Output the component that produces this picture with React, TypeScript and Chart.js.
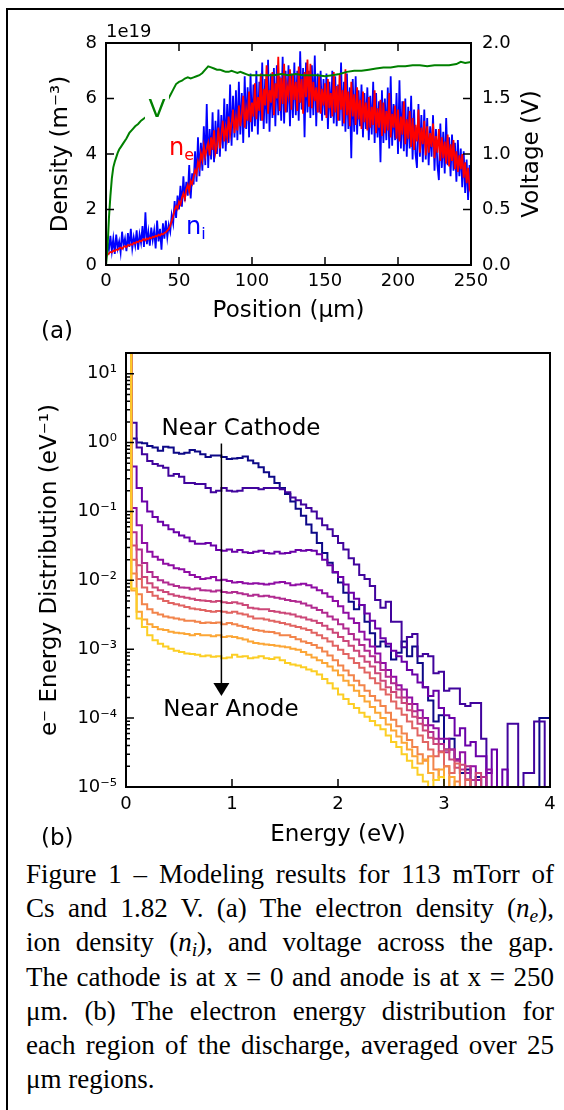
import React, { useEffect, useRef } from "react";
import { Chart, registerables } from "chart.js";

Chart.register(...registerables);

const SANS = "'DejaVu Sans', 'Noto Sans', sans-serif";
const SERIF = "'Liberation Serif', 'Times New Roman', serif";

// ======================= Panel (a) data =======================
const positionUm = [
  0, 1, 2, 3, 4, 5, 6, 7, 8, 9, 10, 11, 12, 13, 14, 15, 16, 17, 18, 19,
  20, 21, 22, 23, 24, 25, 26, 27, 28, 29, 30, 31, 32, 33, 34, 35, 36, 37, 38, 39,
  40, 41, 42, 43, 44, 45, 46, 47, 48, 49, 50, 51, 52, 53, 54, 55, 56, 57, 58, 59,
  60, 61, 62, 63, 64, 65, 66, 67, 68, 69, 70, 71, 72, 73, 74, 75, 76, 77, 78, 79,
  80, 81, 82, 83, 84, 85, 86, 87, 88, 89, 90, 91, 92, 93, 94, 95, 96, 97, 98, 99,
  100, 101, 102, 103, 104, 105, 106, 107, 108, 109, 110, 111, 112, 113, 114, 115, 116, 117, 118, 119,
  120, 121, 122, 123, 124, 125, 126, 127, 128, 129, 130, 131, 132, 133, 134, 135, 136, 137, 138, 139,
  140, 141, 142, 143, 144, 145, 146, 147, 148, 149, 150, 151, 152, 153, 154, 155, 156, 157, 158, 159,
  160, 161, 162, 163, 164, 165, 166, 167, 168, 169, 170, 171, 172, 173, 174, 175, 176, 177, 178, 179,
  180, 181, 182, 183, 184, 185, 186, 187, 188, 189, 190, 191, 192, 193, 194, 195, 196, 197, 198, 199,
  200, 201, 202, 203, 204, 205, 206, 207, 208, 209, 210, 211, 212, 213, 214, 215, 216, 217, 218, 219,
  220, 221, 222, 223, 224, 225, 226, 227, 228, 229, 230, 231, 232, 233, 234, 235, 236, 237, 238, 239,
  240, 241, 242, 243, 244, 245, 246, 247, 248, 249, 250,
];

// electron density n_e (units of 1e19 m^-3)
const electronDensity = [
  0.30, 0.36, 0.42, 0.47, 0.45, 0.52, 0.50, 0.56, 0.54, 0.60,
  0.63, 0.58, 0.65, 0.68, 0.64, 0.72, 0.70, 0.75, 0.73, 0.80,
  0.78, 0.84, 0.82, 0.88, 0.85, 0.90, 0.94, 0.89, 0.96, 0.93,
  0.99, 0.96, 1.02, 1.00, 1.05, 1.03, 1.09, 1.06, 1.12, 1.10,
  1.15, 1.18, 1.24, 1.30, 1.42, 1.58, 1.76, 1.98, 2.12, 2.02,
  2.28, 2.18, 2.42, 2.58, 2.38, 2.72, 2.88, 2.66, 3.02, 2.92,
  3.18, 3.42, 3.28, 3.72, 3.52, 4.02, 3.78, 4.28, 3.92, 4.18,
  4.40, 3.95, 4.60, 4.15, 4.85, 4.05, 4.30, 4.95, 4.20, 4.70,
  5.20, 4.45, 4.95, 4.60, 5.35, 4.70, 5.10, 5.60, 4.75, 5.30,
  4.85, 5.75, 5.00, 5.45, 6.10, 4.95, 5.60, 5.20, 6.25, 5.15,
  5.85, 5.35, 6.55, 5.25, 6.05, 5.55, 6.90, 5.20, 6.35, 5.75,
  7.20, 5.45, 6.30, 5.85, 6.95, 5.40, 6.55, 6.00, 7.50, 5.55,
  6.75, 5.80, 7.25, 5.50, 6.45, 6.10, 7.05, 5.60, 6.85, 5.95,
  6.60, 5.55, 7.15, 5.85, 6.70, 5.45, 6.95, 6.05, 7.40, 5.70,
  7.25, 5.65, 6.60, 5.90, 6.40, 5.50, 6.80, 5.45, 6.35, 5.75,
  6.55, 5.30, 6.70, 5.65, 6.20, 5.35, 6.95, 5.50, 6.45, 5.20,
  6.85, 5.60, 6.30, 5.10, 7.05, 5.40, 6.25, 5.00, 6.60, 5.35,
  6.15, 5.05, 6.40, 5.25, 5.95, 4.90, 6.25, 5.15, 5.85, 4.85,
  6.05, 4.95, 5.70, 5.05, 6.30, 4.75, 5.65, 4.95, 5.95, 4.65,
  5.85, 4.75, 5.55, 4.85, 6.20, 4.60, 5.45, 4.95, 5.75, 4.55,
  5.60, 4.45, 5.35, 4.70, 5.90, 4.35, 5.25, 4.55, 5.55, 4.25,
  5.30, 4.15, 5.05, 4.45, 5.60, 4.05, 4.95, 4.35, 5.20, 3.95,
  5.00, 4.05, 4.75, 4.25, 5.10, 3.85, 4.65, 4.05, 4.90, 3.75,
  4.60, 3.85, 4.45, 3.65, 4.70, 3.55, 4.35, 3.75, 4.50, 3.45,
  4.10, 3.35, 3.95, 3.45, 4.00, 3.15, 3.70, 2.95, 3.50, 2.75,
  2.90,
];

// ion density n_i (units of 1e19 m^-3)
const ionDensity = [
  0.35, 0.80, 0.55, 1.05, 0.50, 0.95, 0.40, 1.10, 0.60, 0.85,
  0.45, 1.20, 0.70, 0.95, 0.50, 1.15, 0.65, 1.30, 0.60, 1.00,
  0.70, 1.25, 0.55, 1.10, 0.80, 1.40, 0.65, 1.90, 0.75, 1.20,
  0.70, 1.35, 0.90, 1.25, 0.60, 1.60, 0.85, 1.30, 0.55, 1.50,
  0.95, 1.60, 1.00, 1.45, 1.20, 1.80, 1.50, 2.30, 1.70, 2.50,
  2.00, 2.85, 2.10, 3.20, 2.30, 3.00, 2.50, 3.60, 2.40, 3.30,
  2.90, 4.10, 3.00, 4.60, 3.20, 4.40, 3.40, 5.00, 3.60, 5.80,
  3.50, 4.90, 3.80, 5.50, 3.70, 5.20, 4.00, 5.60, 3.90, 5.40,
  4.20, 6.00, 4.10, 5.80, 4.40, 6.50, 4.30, 6.10, 4.60, 6.30,
  4.50, 6.60, 4.70, 6.20, 4.40, 6.80, 4.90, 6.40, 4.60, 6.90,
  4.80, 6.50, 5.00, 7.00, 4.70, 6.60, 5.20, 7.30, 4.90, 6.70,
  5.10, 7.40, 4.80, 6.90, 5.30, 7.10, 5.00, 7.20, 5.40, 6.80,
  5.20, 7.50, 5.10, 7.00, 5.50, 7.20, 5.00, 6.90, 5.30, 7.30,
  5.40, 7.00, 5.20, 7.70, 5.60, 7.10, 4.60, 7.30, 5.50, 7.00,
  5.30, 7.20, 5.40, 7.55, 5.00, 6.90, 5.50, 7.00, 5.20, 6.70,
  5.40, 6.90, 4.90, 6.60, 5.30, 7.00, 5.10, 6.80, 5.00, 6.50,
  5.20, 7.30, 5.00, 6.60, 4.80, 6.90, 4.90, 6.40, 3.85, 6.70,
  4.80, 6.80, 4.70, 6.30, 5.00, 6.50, 4.60, 6.20, 4.90, 6.40,
  4.50, 6.10, 4.70, 6.60, 4.40, 6.20, 4.60, 5.90, 3.70, 6.30,
  4.40, 6.00, 4.50, 6.40, 4.20, 6.80, 4.30, 5.80, 4.50, 6.20,
  4.00, 6.66, 4.20, 5.90, 4.10, 6.00, 3.90, 5.70, 4.20, 6.10,
  3.80, 5.60, 4.00, 3.50, 5.80, 3.90, 5.40, 3.70, 5.60, 3.80,
  5.30, 3.60, 5.00, 3.90, 5.40, 3.40, 4.90, 3.60, 3.06, 5.10,
  3.50, 4.80, 3.30, 5.30, 3.60, 4.60, 3.20, 4.70, 3.40, 4.40,
  3.00, 4.50, 3.20, 4.20, 2.80, 4.10, 2.60, 3.80, 2.34, 3.60,
  2.80,
];

const voltagePosUm = [
  0, 1, 2, 3, 4, 5, 6, 7, 8, 9, 10,
  12, 14, 16, 18, 20, 22, 24, 26, 28, 30, 32, 34, 36, 38, 40, 42, 44, 46, 48, 50,
  52, 54, 56, 58, 60, 62, 64, 66, 68, 70, 72, 74, 76, 78, 80, 82, 84, 86, 88, 90,
  92, 94, 96, 98, 100,
  105, 110, 115, 120, 125, 130, 135, 140, 145, 150, 155, 160, 165, 170, 175, 180,
  185, 190, 195, 200, 205, 210, 215, 220, 225, 230, 235, 240, 243, 246, 250,
];
const voltageV = [
  0.0, 0.14, 0.42, 0.62, 0.78, 0.88, 0.93, 0.97, 1.01, 1.04, 1.06,
  1.10, 1.14, 1.19, 1.22, 1.25, 1.27, 1.30, 1.32, 1.34, 1.36, 1.38, 1.40, 1.42, 1.44, 1.46, 1.48, 1.53, 1.58, 1.63, 1.65,
  1.66, 1.68, 1.69, 1.68, 1.69, 1.70, 1.71, 1.73, 1.76, 1.79, 1.78, 1.77, 1.76, 1.76, 1.75, 1.74, 1.74, 1.75, 1.74, 1.73,
  1.74, 1.73, 1.72, 1.71, 1.71,
  1.71, 1.71, 1.71, 1.72, 1.71, 1.72, 1.71, 1.71, 1.71, 1.70, 1.71, 1.72, 1.74, 1.75, 1.75, 1.76,
  1.77, 1.78, 1.78, 1.79, 1.79, 1.80, 1.80, 1.79, 1.80, 1.80, 1.80, 1.81, 1.83, 1.82, 1.83,
];

const positionTicks = [0, 50, 100, 150, 200, 250];
const densityTicks = [0, 2, 4, 6, 8];
const densityTickLabels = ["0", "2", "4", "6", "8"];
const voltageTicks = [0, 0.5, 1, 1.5, 2];
const voltageTickLabels = ["0.0", "0.5", "1.0", "1.5", "2.0"];

// ======================= Panel (b) data =======================
const energyEdgesEV = [
  0, 0.05, 0.1, 0.15, 0.2, 0.25, 0.3, 0.35, 0.4, 0.45, 0.5, 0.55, 0.6, 0.65, 0.7, 0.75,
  0.8, 0.85, 0.9, 0.95, 1.0, 1.05, 1.1, 1.15, 1.2, 1.25, 1.3, 1.35, 1.4, 1.45, 1.5, 1.55,
  1.6, 1.65, 1.7, 1.75, 1.8, 1.85, 1.9, 1.95, 2.0, 2.05, 2.1, 2.15, 2.2, 2.25, 2.3, 2.35,
  2.4, 2.45, 2.5, 2.55, 2.6, 2.65, 2.7, 2.75, 2.8, 2.85, 2.9, 2.95, 3.0, 3.05, 3.1, 3.15,
  3.2, 3.25, 3.3, 3.35, 3.4, 3.45, 3.5, 3.55, 3.6, 3.65, 3.7, 3.75, 3.8, 3.85, 3.9, 3.95, 4.0,
];

// e- energy distribution (eV^-1), one value per bin, region 1 = near cathode ... region 10 = near anode
const eedfRegion1 = [
  30, 1.15, 1.0, 0.98, 0.89, 0.85, 0.76, 0.87, 0.85, 0.71,
  0.69, 0.71, 0.78, 0.74, 0.68, 0.62, 0.65, 0.65, 0.62, 0.58,
  0.59, 0.60, 0.63, 0.55, 0.50, 0.44, 0.37, 0.32, 0.26, 0.22,
  0.18, 0.14, 0.11, 0.087, 0.065, 0.049, 0.035, 0.025, 0.018, 0.013,
  9.3e-3, 6.6e-3, 4.9e-3, 3.8e-3, 4.4e-3, 2.5e-3, 1.7e-3, 1.1e-3, 1.3e-3, 1.1e-3,
  7.1e-4, 8.9e-4, 1.3e-3, 7.9e-4, 1.1e-3, 6.3e-4, 2.8e-4, 1.8e-4, 8.9e-5, 1.1e-4,
  3.5e-5, 5.0e-5, 2.5e-5, 1.6e-5, 1.8e-5, 0, 1.4e-5, 0, 0, 0,
  0, 0, 0, 0, 0, 0, 0, 0, 1.0e-4, 1.0e-4,
];
const eedfRegion2 = [
  30, 1.95, 0.85, 0.68, 0.54, 0.49, 0.46, 0.43, 0.33, 0.35,
  0.32, 0.26, 0.26, 0.25, 0.25, 0.22, 0.19, 0.20, 0.22, 0.20,
  0.195, 0.20, 0.22, 0.22, 0.22, 0.21, 0.22, 0.22, 0.22, 0.21,
  0.19, 0.16, 0.145, 0.126, 0.112, 0.10, 0.079, 0.063, 0.055, 0.044,
  0.035, 0.028, 0.021, 0.017, 0.012, 0.0105, 8.3e-3, 5.2e-3, 4.0e-3, 4.9e-3,
  2.5e-3, 2.5e-3, 1.07e-3, 1.5e-3, 1.66e-3, 7.9e-4, 8.5e-4, 7.9e-4, 4.5e-4, 4.7e-4,
  2.5e-4, 2.7e-4, 2.7e-4, 1.6e-4, 1.5e-4, 1.66e-4, 1.66e-4, 5.0e-5, 0, 0,
  0, 0, 8.3e-5, 8.3e-5, 0, 1.6e-5, 1.6e-5, 8.9e-5, 8.9e-5, 0,
];
const eedfRegion3 = [
  30, 0.45, 0.22, 0.14, 0.10, 0.083, 0.071, 0.063, 0.055, 0.050,
  0.045, 0.042, 0.037, 0.034, 0.034, 0.035, 0.032, 0.0275, 0.027, 0.028,
  0.026, 0.0275, 0.0257, 0.025, 0.026, 0.027, 0.025, 0.0245, 0.026, 0.0245,
  0.025, 0.026, 0.0275, 0.027, 0.0275, 0.027, 0.024, 0.020, 0.0166, 0.0132,
  0.0112, 8.7e-3, 6.6e-3, 5.4e-3, 4.4e-3, 3.3e-3, 2.6e-3, 2.0e-3, 1.45e-3, 1.2e-3,
  9.5e-4, 7.9e-4, 6.6e-4, 5.0e-4, 4.3e-4, 3.3e-4, 2.8e-4, 2.1e-4, 2.5e-4, 1.4e-4,
  1.1e-4, 1.0e-4, 5.6e-5, 7.1e-5, 4.0e-5, 4.5e-5, 2.8e-5, 2.8e-5, 1.6e-5, 3.5e-5,
  0, 1.8e-5, 0, 0, 0, 0, 0, 0, 0, 0,
];
const eedfRegion4 = [
  30, 0.112, 0.063, 0.035, 0.026, 0.022, 0.020, 0.0174, 0.0166, 0.015,
  0.0145, 0.0132, 0.012, 0.0112, 0.0105, 0.0107, 0.0112, 0.010, 0.0102, 0.0098,
  0.0093, 0.0095, 0.0091, 0.0089, 0.0091, 0.0089, 0.0087, 0.0089, 0.0093, 0.0095,
  0.0091, 0.0085, 0.0087, 0.0089, 0.0085, 0.0079, 0.0072, 0.0065, 0.0058, 0.0050,
  4.2e-3, 3.4e-3, 2.8e-3, 2.4e-3, 1.8e-3, 1.38e-3, 1.1e-3, 8.7e-4, 6.3e-4, 5.0e-4,
  4.0e-4, 3.0e-4, 2.6e-4, 2.0e-4, 1.6e-4, 1.3e-4, 1.0e-4, 7.9e-5, 7.1e-5, 5.0e-5,
  5.0e-5, 3.5e-5, 2.5e-5, 3.2e-5, 1.6e-5, 2.0e-5, 1.26e-5, 0, 1.8e-5, 0,
  0, 0, 0, 0, 0, 0, 0, 0, 0, 0,
];
const eedfRegion5 = [
  30, 0.050, 0.028, 0.0178, 0.0132, 0.0112, 0.010, 0.0093, 0.0087, 0.0083,
  0.0079, 0.0078, 0.0074, 0.0076, 0.0072, 0.0071, 0.0069, 0.0071, 0.0068, 0.0066,
  0.0068, 0.0065, 0.0063, 0.0060, 0.0062, 0.0059, 0.0060, 0.0058, 0.0056, 0.0054,
  0.0052, 0.0050, 0.0049, 0.0046, 0.0043, 0.0040, 0.0037, 0.0034, 0.0030, 0.0027,
  2.3e-3, 2.0e-3, 1.66e-3, 1.38e-3, 1.15e-3, 9.5e-4, 7.9e-4, 6.5e-4, 5.0e-4, 4.0e-4,
  3.2e-4, 2.6e-4, 2.0e-4, 1.6e-4, 1.26e-4, 1.0e-4, 7.9e-5, 6.3e-5, 5.0e-5, 4.2e-5,
  3.2e-5, 3.5e-5, 2.4e-5, 1.8e-5, 2.0e-5, 1.26e-5, 0, 1.4e-5, 0, 0,
  0, 0, 0, 0, 0, 0, 0, 0, 0, 0,
];
const eedfRegion6 = [
  30, 0.032, 0.0166, 0.0112, 0.0091, 0.0079, 0.0072, 0.0068, 0.0063, 0.0060,
  0.0058, 0.0056, 0.0054, 0.0052, 0.0051, 0.0050, 0.0049, 0.0050, 0.0048, 0.0047,
  0.0048, 0.0046, 0.0044, 0.0040, 0.0039, 0.0038, 0.0038, 0.0036, 0.0035, 0.0034,
  0.0033, 0.0032, 0.0030, 0.0029, 0.0027, 0.0026, 0.0024, 0.0022, 0.00195, 0.00174,
  1.5e-3, 1.32e-3, 1.12e-3, 9.5e-4, 7.9e-4, 6.6e-4, 5.6e-4, 4.5e-4, 3.5e-4, 2.8e-4,
  2.4e-4, 2.0e-4, 1.66e-4, 1.3e-4, 1.05e-4, 8.3e-5, 6.6e-5, 5.2e-5, 4.2e-5, 3.3e-5,
  3.5e-5, 2.5e-5, 1.9e-5, 2.1e-5, 1.3e-5, 0, 1.6e-5, 0, 0, 0,
  0, 0, 0, 0, 0, 0, 0, 0, 0, 0,
];
const eedfRegion7 = [
  30, 0.020, 0.0105, 0.0079, 0.0068, 0.0060, 0.0054, 0.0050, 0.0047, 0.0045,
  0.0043, 0.0041, 0.0039, 0.0038, 0.0037, 0.0036, 0.0035, 0.0036, 0.0035, 0.0034,
  0.0035, 0.0033, 0.0032, 0.0030, 0.0028, 0.0028, 0.0027, 0.0026, 0.0025, 0.0024,
  0.0023, 0.0022, 0.0021, 0.0020, 0.0019, 0.00174, 0.0016, 0.00145, 0.0013, 0.00112,
  9.8e-4, 8.5e-4, 7.4e-4, 6.3e-4, 5.4e-4, 4.6e-4, 3.8e-4, 3.2e-4, 2.6e-4, 2.2e-4,
  1.74e-4, 1.38e-4, 1.12e-4, 8.9e-5, 7.1e-5, 5.6e-5, 4.5e-5, 3.5e-5, 2.8e-5, 3.2e-5,
  2.0e-5, 1.6e-5, 2.2e-5, 0, 1.26e-5, 0, 0, 0, 0, 0,
  0, 0, 0, 0, 0, 0, 0, 0, 0, 0,
];
const eedfRegion8 = [
  30, 0.0126, 0.0063, 0.0045, 0.0038, 0.0034, 0.0032, 0.0030, 0.0029, 0.0028,
  0.0027, 0.0026, 0.0026, 0.0025, 0.0024, 0.00245, 0.0024, 0.00245, 0.0023, 0.0024,
  0.0023, 0.0022, 0.0021, 0.0020, 0.0019, 0.00186, 0.0018, 0.00178, 0.0017, 0.0016,
  0.0016, 0.0015, 0.0014, 0.0013, 0.00123, 0.00115, 0.00105, 9.3e-4, 8.1e-4, 6.9e-4,
  5.8e-4, 4.9e-4, 4.2e-4, 3.5e-4, 3.0e-4, 2.5e-4, 2.1e-4, 1.8e-4, 1.5e-4, 1.2e-4,
  9.5e-5, 7.6e-5, 6.0e-5, 4.8e-5, 3.8e-5, 3.0e-5, 2.4e-5, 2.8e-5, 1.8e-5, 1.4e-5,
  2.0e-5, 0, 1.2e-5, 0, 0, 0, 0, 0, 0, 0,
  0, 0, 0, 0, 0, 0, 0, 0, 0, 0,
];
const eedfRegion9 = [
  30, 0.0071, 0.0035, 0.0027, 0.0023, 0.0021, 0.00195, 0.0019, 0.0018, 0.00174,
  0.0017, 0.00166, 0.0016, 0.00166, 0.0016, 0.0016, 0.00155, 0.0016, 0.0015, 0.00155,
  0.0015, 0.00145, 0.00138, 0.0013, 0.00123, 0.0012, 0.00117, 0.00115, 0.00112, 0.0011,
  0.00107, 0.00102, 9.8e-4, 9.1e-4, 8.3e-4, 7.6e-4, 6.9e-4, 6.3e-4, 5.6e-4, 4.9e-4,
  4.2e-4, 3.5e-4, 3.0e-4, 2.5e-4, 2.1e-4, 1.74e-4, 1.45e-4, 1.2e-4, 1.0e-4, 8.1e-5,
  6.6e-5, 5.4e-5, 4.4e-5, 3.5e-5, 2.8e-5, 2.2e-5, 2.5e-5, 1.6e-5, 1.26e-5, 1.8e-5,
  0, 1.4e-5, 0, 0, 0, 0, 0, 0, 0, 0,
  0, 0, 0, 0, 0, 0, 0, 0, 0, 0,
];
const eedfRegion10 = [
  30, 0.0076, 0.0028, 0.0021, 0.0016, 0.00135, 0.0012, 0.0011, 0.00102, 9.5e-4,
  9.1e-4, 8.7e-4, 8.5e-4, 8.3e-4, 7.9e-4, 8.1e-4, 7.8e-4, 7.9e-4, 7.4e-4, 7.6e-4,
  8.3e-4, 7.8e-4, 7.9e-4, 7.4e-4, 7.6e-4, 7.9e-4, 7.4e-4, 7.2e-4, 7.6e-4, 6.9e-4,
  6.3e-4, 6.0e-4, 5.8e-4, 5.5e-4, 5.1e-4, 4.8e-4, 4.3e-4, 3.7e-4, 3.2e-4, 2.7e-4,
  2.2e-4, 1.9e-4, 1.6e-4, 1.4e-4, 1.2e-4, 1.05e-4, 9.1e-5, 7.9e-5, 6.9e-5, 5.6e-5,
  4.5e-5, 3.8e-5, 3.0e-5, 2.4e-5, 1.9e-5, 1.5e-5, 1.2e-5, 0, 1.26e-5, 1.4e-5,
  0, 0, 0, 0, 0, 0, 0, 0, 0, 0,
  0, 0, 0, 0, 0, 0, 0, 0, 0, 0,
];
const eedfRegions = [
  eedfRegion1, eedfRegion2, eedfRegion3, eedfRegion4, eedfRegion5,
  eedfRegion6, eedfRegion7, eedfRegion8, eedfRegion9, eedfRegion10,
];
const regionColors = [
  "#0d0887", "#41049d", "#6a00a8", "#8f0da4", "#b12a90",
  "#cc4778", "#e16462", "#f2844b", "#fca636", "#fcce25",
];
const energyTicks = [0, 1, 2, 3, 4];
const energyTickLabels = ["0", "1", "2", "3", "4"];
const decadeTicks = [1e-5, 1e-4, 1e-3, 1e-2, 1e-1, 1, 10];
const decadeTickLabels = ["10⁻⁵", "10⁻⁴", "10⁻³", "10⁻²", "10⁻¹", "10⁰", "10¹"];

// ======================= helpers =======================
const tickFont = { family: SANS, size: 18 };
const titleFont = { family: SANS, size: 23 };

function fixSize(prop: string, size: number) {
  return (s: any) => {
    s[prop] = size;
    s.paddingTop = 0;
    s.paddingBottom = 0;
    s.paddingLeft = 0;
    s.paddingRight = 0;
  };
}
function setTicks(values: number[]) {
  return (s: any) => {
    s.ticks = values.map((v) => ({ value: v }));
  };
}

const panelAPlugin = {
  id: "panelADecor",
  afterDraw(chart: any) {
    const { ctx, chartArea: a, scales } = chart;
    const sx = scales.x, sy = scales.y, sv = scales.yV;
    ctx.save();
    ctx.strokeStyle = "#000";
    ctx.lineWidth = 1.5;
    ctx.beginPath();
    positionTicks.forEach((t) => {
      const p = sx.getPixelForValue(t);
      ctx.moveTo(p, a.bottom); ctx.lineTo(p, a.bottom - 8);
      ctx.moveTo(p, a.top); ctx.lineTo(p, a.top + 8);
    });
    densityTicks.forEach((t) => {
      const p = sy.getPixelForValue(t);
      ctx.moveTo(a.left, p); ctx.lineTo(a.left + 8, p);
    });
    voltageTicks.forEach((t) => {
      const p = sv.getPixelForValue(t);
      ctx.moveTo(a.right, p); ctx.lineTo(a.right - 8, p);
    });
    ctx.stroke();
    ctx.lineWidth = 2;
    ctx.strokeRect(a.left, a.top, a.right - a.left, a.bottom - a.top);

    // "V" label with white box
    const vx = sx.getPixelForValue(34.9), vy = sy.getPixelForValue(5.59);
    ctx.fillStyle = "#fff";
    ctx.fillRect(vx - 12, vy - 15, 24, 30);
    ctx.font = `25px ${SANS}`;
    ctx.fillStyle = "#008000";
    ctx.textAlign = "center";
    ctx.textBaseline = "middle";
    ctx.fillText("V", vx, vy + 1);

    // n_e and n_i labels
    const drawSub = (main: string, sub: string, xv: number, yv: number, color: string) => {
      const px = sx.getPixelForValue(xv), py = sy.getPixelForValue(yv);
      ctx.fillStyle = color;
      ctx.textAlign = "left";
      ctx.textBaseline = "alphabetic";
      ctx.font = `24px ${SANS}`;
      ctx.fillText(main, px, py);
      const w = ctx.measureText(main).width;
      ctx.font = `16px ${SANS}`;
      ctx.fillText(sub, px + w, py + 5);
    };
    drawSub("n", "e", 43.2, 3.98, "#ff0000");
    drawSub("n", "i", 54.8, 1.135, "#0000ff");

    // offset text
    ctx.fillStyle = "#000";
    ctx.font = `18px ${SANS}`;
    ctx.textAlign = "left";
    ctx.textBaseline = "middle";
    ctx.fillText("1e19", a.left, a.top - 11);

    // right axis title (reads bottom to top)
    ctx.save();
    ctx.translate(532, (a.top + a.bottom) / 2);
    ctx.rotate(-Math.PI / 2);
    ctx.font = `23px ${SANS}`;
    ctx.textAlign = "center";
    ctx.textBaseline = "middle";
    ctx.fillText("Voltage (V)", 0, 0);
    ctx.restore();
    ctx.restore();
  },
};

const panelBPlugin = {
  id: "panelBDecor",
  afterDraw(chart: any) {
    const { ctx, chartArea: a, scales } = chart;
    const sx = scales.x, sy = scales.y;
    ctx.save();
    ctx.strokeStyle = "#000";
    ctx.lineWidth = 1.5;
    ctx.beginPath();
    energyTicks.forEach((t) => {
      const p = sx.getPixelForValue(t);
      ctx.moveTo(p, a.bottom); ctx.lineTo(p, a.bottom - 8);
    });
    decadeTicks.forEach((t) => {
      const p = sy.getPixelForValue(t);
      ctx.moveTo(a.left, p); ctx.lineTo(a.left + 8, p);
      for (let m = 2; m <= 9; m++) {
        const v = m * t;
        if (v < sy.max) {
          const q = sy.getPixelForValue(v);
          ctx.moveTo(a.left, q); ctx.lineTo(a.left + 4, q);
        }
      }
    });
    ctx.stroke();
    ctx.lineWidth = 2;
    ctx.strokeRect(a.left, a.top, a.right - a.left, a.bottom - a.top);

    // arrow
    const ax = sx.getPixelForValue(0.9);
    const ay1 = sy.getPixelForValue(0.97);
    const ay2 = sy.getPixelForValue(2.1e-4);
    ctx.lineWidth = 1.5;
    ctx.beginPath();
    ctx.moveTo(ax, ay1);
    ctx.lineTo(ax, ay2 - 12);
    ctx.stroke();
    ctx.fillStyle = "#000";
    ctx.beginPath();
    ctx.moveTo(ax - 8, ay2 - 13);
    ctx.lineTo(ax + 8, ay2 - 13);
    ctx.lineTo(ax, ay2);
    ctx.closePath();
    ctx.fill();

    ctx.font = `23px ${SANS}`;
    ctx.textAlign = "center";
    ctx.textBaseline = "middle";
    ctx.fillText("Near Cathode", sx.getPixelForValue(1.085), sy.getPixelForValue(1.6));
    ctx.fillText("Near Anode", sx.getPixelForValue(0.99), sy.getPixelForValue(1.3e-4));
    ctx.restore();
  },
};

function makeChartA(): any {
  return {
    type: "line",
    data: {
      datasets: [
        {
          data: voltagePosUm.map((x, i) => ({ x, y: voltageV[i] })),
          yAxisID: "yV",
          borderColor: "#008000",
          borderWidth: 2,
        },
        {
          data: positionUm.map((x, i) => ({ x, y: electronDensity[i] })),
          yAxisID: "y",
          borderColor: "#ff0000",
          borderWidth: 1.8,
        },
        {
          data: positionUm.map((x, i) => ({ x, y: ionDensity[i] })),
          yAxisID: "y",
          borderColor: "#0000ff",
          borderWidth: 1.8,
        },
      ],
    },
    options: {
      responsive: false,
      animation: false,
      devicePixelRatio: 1,
      events: [],
      layout: { padding: { left: 46, right: 18, top: 43, bottom: 20 }, autoPadding: false },
      elements: { point: { radius: 0 }, line: { tension: 0 } },
      plugins: { legend: { display: false }, tooltip: { enabled: false } },
      scales: {
        x: {
          type: "linear",
          min: 0,
          max: 250,
          afterBuildTicks: setTicks(positionTicks),
          ticks: { font: tickFont, color: "#000", padding: 6, maxRotation: 0, minRotation: 0, autoSkip: false },
          grid: { display: false, drawTicks: false },
          border: { display: false },
          title: { display: true, text: "Position (µm)", font: titleFont, color: "#000", padding: 0 },
          afterFit: fixSize("height", 60),
        },
        y: {
          type: "linear",
          position: "left",
          min: 0,
          max: 8,
          afterBuildTicks: setTicks(densityTicks),
          ticks: { font: tickFont, color: "#000", padding: 9, callback: (_v: any, i: number) => densityTickLabels[i] },
          grid: { display: false, drawTicks: false },
          border: { display: false },
          title: { display: true, text: "Density (m⁻³)", font: titleFont, color: "#000", padding: { top: 1, bottom: 0 } },
          afterFit: fixSize("width", 60),
        },
        yV: {
          type: "linear",
          position: "right",
          min: 0,
          max: 2,
          afterBuildTicks: setTicks(voltageTicks),
          ticks: { font: tickFont, color: "#000", padding: 11, callback: (_v: any, i: number) => voltageTickLabels[i] },
          grid: { display: false, drawTicks: false },
          border: { display: false },
          title: { display: false },
          afterFit: fixSize("width", 75),
        },
      },
    },
    plugins: [panelAPlugin],
  };
}

function makeChartB(): any {
  return {
    type: "line",
    data: {
      datasets: eedfRegions.map((series, i) => ({
        data: energyEdgesEV.map((e, k) => {
          const v = series[Math.min(k, series.length - 1)];
          return { x: e, y: v > 0 ? v : 1e-9 };
        }),
        borderColor: regionColors[i],
        borderWidth: 2,
        stepped: true,
        order: eedfRegions.length - i,
      })),
    },
    options: {
      responsive: false,
      animation: false,
      devicePixelRatio: 1,
      events: [],
      layout: { padding: { left: 36, right: 14, top: 8, bottom: 1 }, autoPadding: false },
      elements: { point: { radius: 0 }, line: { tension: 0 } },
      plugins: { legend: { display: false }, tooltip: { enabled: false } },
      scales: {
        x: {
          type: "linear",
          min: 0,
          max: 4,
          afterBuildTicks: setTicks(energyTicks),
          ticks: { font: tickFont, color: "#000", padding: 7, maxRotation: 0, minRotation: 0, autoSkip: false, callback: (_v: any, i: number) => energyTickLabels[i] },
          grid: { display: false, drawTicks: false },
          border: { display: false },
          title: { display: true, text: "Energy (eV)", font: titleFont, color: "#000", padding: 0 },
          afterFit: fixSize("height", 62),
        },
        y: {
          type: "logarithmic",
          position: "left",
          min: 1e-5,
          max: 20,
          afterBuildTicks: setTicks(decadeTicks),
          ticks: { font: tickFont, color: "#000", padding: 9, autoSkip: false, callback: (_v: any, i: number) => decadeTickLabels[i] },
          grid: { display: false, drawTicks: false },
          border: { display: false },
          title: { display: true, text: "e⁻ Energy Distribution (eV⁻¹)", font: titleFont, color: "#000", padding: 0 },
          afterFit: fixSize("width", 90),
        },
      },
    },
    plugins: [panelBPlugin],
  };
}

function ChartCanvas({ make, left, top, width, height }: any) {
  const ref = useRef<HTMLCanvasElement>(null);
  useEffect(() => {
    const chart = new Chart(ref.current as HTMLCanvasElement, make());
    return () => chart.destroy();
  }, []);
  return (
    <canvas
      ref={ref}
      width={width}
      height={height}
      style={{ position: "absolute", left, top, width, height }}
    />
  );
}

const captionLineStyle: any = {
  height: "34.2px",
  lineHeight: "34.2px",
  whiteSpace: "nowrap",
  textAlign: "justify",
  textAlignLast: "justify",
};
const subStyle: any = { fontSize: "0.72em", verticalAlign: "-0.25em", lineHeight: 0 };

export default function App() {
  return (
    <div
      style={{
        position: "absolute",
        left: 0,
        top: 0,
        width: 564,
        height: 1110,
        overflow: "hidden",
        background: "#fff",
      }}
    >
      <div
        style={{
          position: "absolute",
          left: 6,
          top: 8,
          width: 700,
          height: 1300,
          borderLeft: "2px solid #000",
          borderTop: "2px solid #000",
        }}
      />
      <ChartCanvas make={makeChartA} left={0} top={0} width={564} height={345} />
      <ChartCanvas make={makeChartB} left={0} top={345} width={564} height={505} />
      <div style={{ position: "absolute", left: 41, top: 316, fontFamily: SANS, fontSize: 23, lineHeight: "28px", color: "#000" }}>(a)</div>
      <div style={{ position: "absolute", left: 41, top: 823, fontFamily: SANS, fontSize: 23, lineHeight: "28px", color: "#000" }}>(b)</div>
      <div
        style={{
          position: "absolute",
          left: 26,
          top: 857,
          width: 528,
          fontFamily: SERIF,
          fontSize: 27,
          color: "#000",
        }}
      >
        <div style={captionLineStyle}>Figure 1 – Modeling results for 113 mTorr of</div>
        <div style={captionLineStyle}>
          Cs and 1.82 V. (a) The electron density (<i>n<span style={subStyle}>e</span></i>),
        </div>
        <div style={captionLineStyle}>
          ion density (<i>n<span style={subStyle}>i</span></i>), and voltage across the gap.
        </div>
        <div style={captionLineStyle}>The cathode is at x = 0 and anode is at x = 250</div>
        <div style={captionLineStyle}>μm. (b) The electron energy distribution for</div>
        <div style={captionLineStyle}>each region of the discharge, averaged over 25</div>
        <div style={{ ...captionLineStyle, textAlign: "left", textAlignLast: "left" }}>μm regions.</div>
      </div>
    </div>
  );
}
